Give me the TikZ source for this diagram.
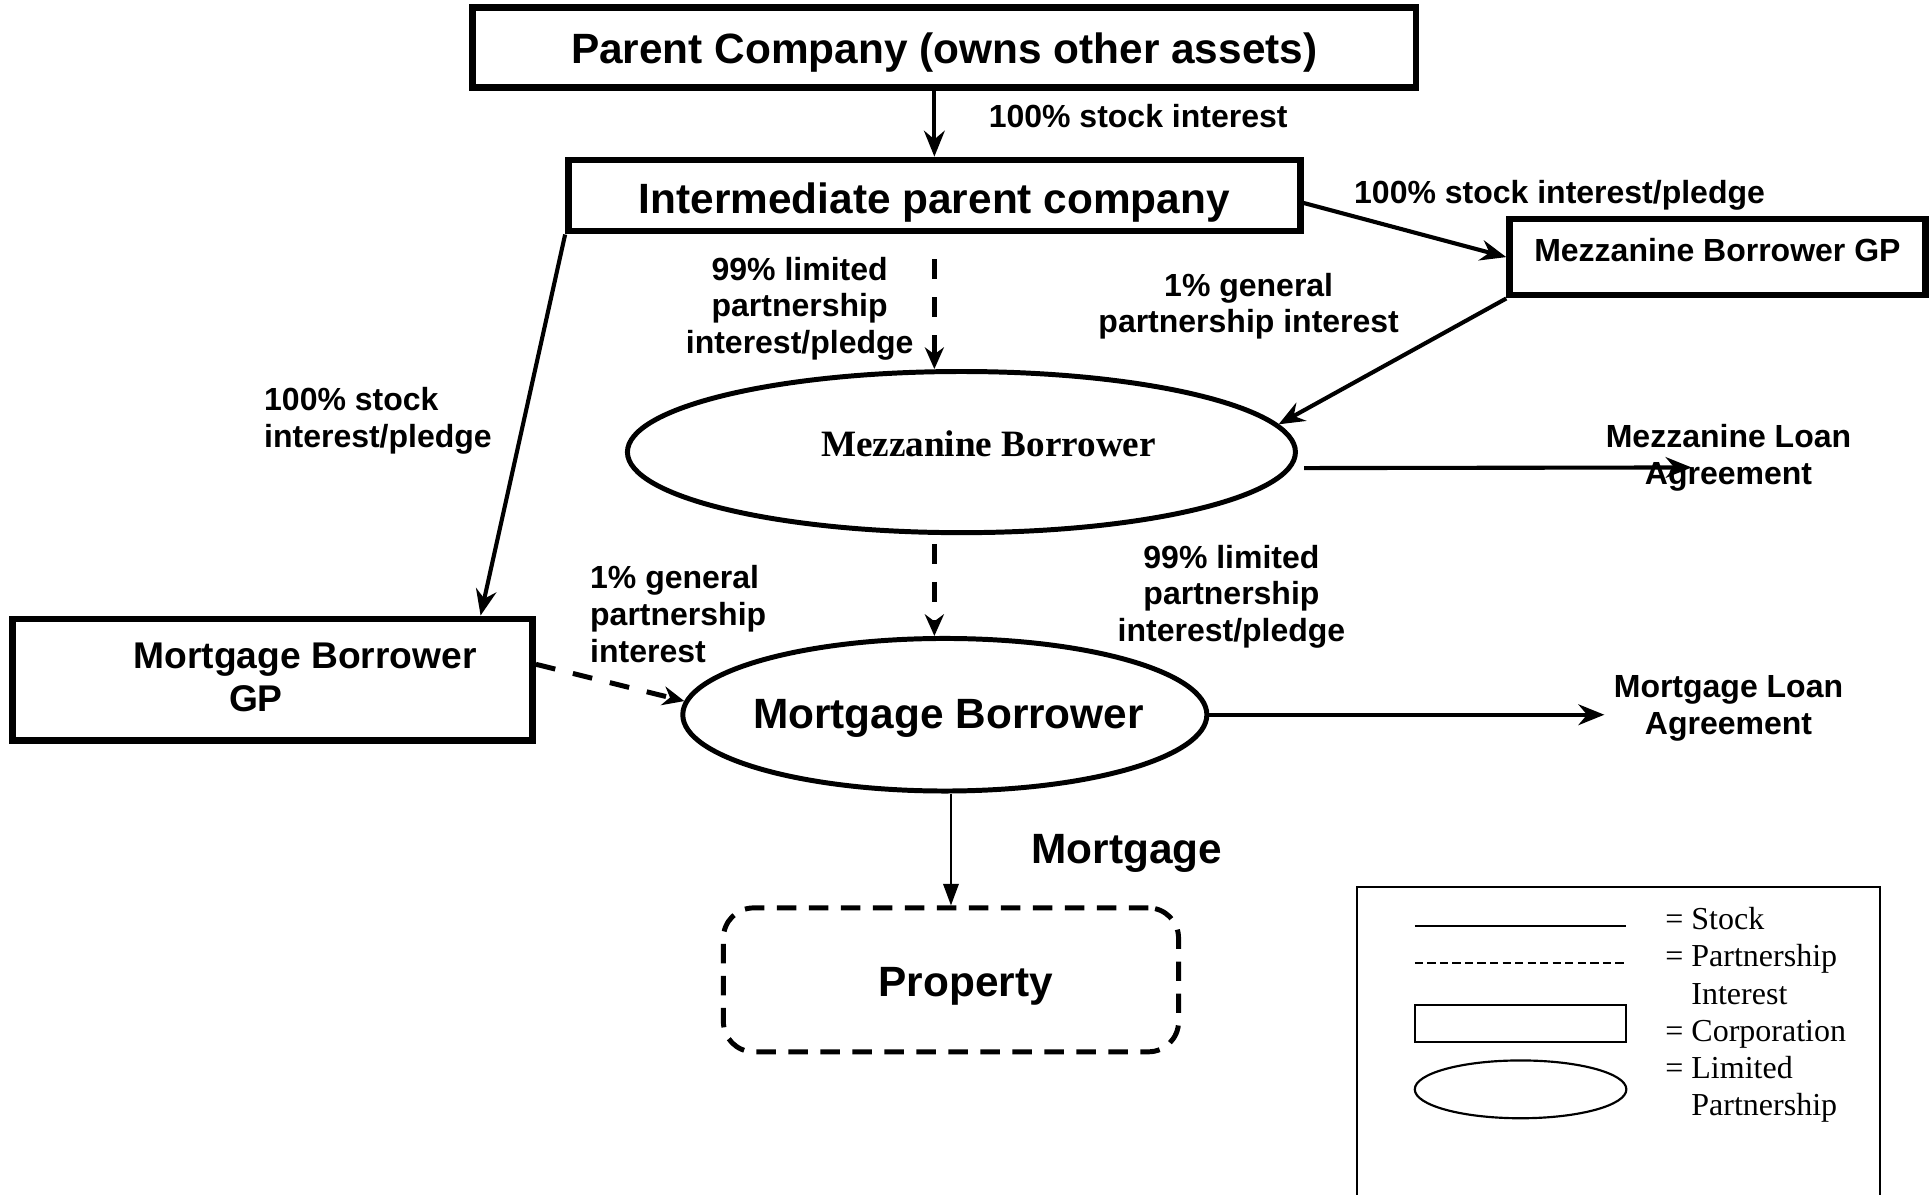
\documentclass[tikz,border=0pt]{standalone}
\usepackage{fontspec}
\setmainfont{Liberation Serif}
\setsansfont{Liberation Sans}
\usetikzlibrary{arrows.meta,shapes.geometric}

\begin{document}
\begin{tikzpicture}[
  every node/.style={inner sep=2pt,font=\sffamily\bfseries\fontsize{7.4}{8.5}\selectfont},
  corp/.style={draw,line width=1.5pt,inner sep=0pt,font=\sffamily\bfseries\fontsize{9.8}{11}\selectfont},
  lp/.style={draw,ellipse,line width=1.15pt,inner sep=0pt},
  stock/.style={line width=0.95pt,-{Stealth[length=6pt,width=4.8pt,inset=2pt]}},
  partner/.style={line width=1.15pt,dash pattern=on 4.6pt off 4.2pt,-{Stealth[length=5pt,width=4.4pt,inset=1.6pt]}}]
  \useasboundingbox (0,0) rectangle (15.68,9.71);
  % Entities
  \node[corp,minimum width=7.67cm,minimum height=0.65cm,text height=9.5pt,text depth=2.1pt] (pc) at (7.675,9.325) {Parent Company (owns other assets)};
  \node[corp,minimum width=5.95cm,minimum height=0.58cm,text height=10.6pt,text depth=2.1pt] (ipc) at (7.595,8.12) {Intermediate parent company};
  \node[corp,minimum width=3.38cm,minimum height=0.62cm,text height=5.4pt,text depth=3.5pt,font=\sffamily\bfseries\fontsize{7.4}{8.5}\selectfont] (mgp) at (13.96,7.62) {Mezzanine Borrower GP};
  \node[corp,minimum width=4.23cm,minimum height=0.99cm,label={[align=center,xshift=0.265cm,yshift=0.02cm,font=\sffamily\bfseries\fontsize{8.6}{10}\selectfont]center:{Mortgage Borrower\\GP\hspace*{0.8cm}}}] (bgp) at (2.215,4.185) {};
  \node[lp,minimum width=5.43cm,minimum height=1.31cm,label={[xshift=0.22cm,yshift=0.07cm,font=\rmfamily\bfseries\fontsize{8.6}{10}\selectfont]center:Mezzanine Borrower}] (mezz) at (7.815,6.035) {};
  \node[lp,minimum width=4.26cm,minimum height=1.24cm,label={[xshift=0.03cm,yshift=-0.03cm,font=\sffamily\bfseries\fontsize{9.8}{11}\selectfont]center:Mortgage Borrower}] (mb) at (7.68,3.90) {};
  \node[draw,line width=1.15pt,dash pattern=on 4.5pt off 2.9pt,rounded corners=7pt,minimum width=3.7cm,minimum height=1.17cm,text height=10pt,text depth=2.1pt,font=\sffamily\bfseries\fontsize{9.8}{11}\selectfont] (prop) at (7.73,1.745) {\hspace*{0.24cm}Property};
  % Labels
  \node[anchor=west] (l1) at (7.96,8.77) {100\% stock interest};
  \node[anchor=west] (l2) at (10.93,8.12) {100\% stock interest/pledge};
  \node[align=center] (l3) at (6.50,7.20) {99\% limited\\partnership\\interest/pledge};
  \node[align=center] (l4) at (10.15,7.22) {1\% general\\partnership interest};
  \node[anchor=west,align=left] (l5) at (2.07,6.29) {100\% stock\\interest/pledge};
  \node[align=center] (mla) at (14.05,5.99) {Mezzanine Loan\\Agreement};
  \node[anchor=west,align=left] (l6) at (4.72,4.72) {1\% general\\partnership\\interest};
  \node[align=center] (l7) at (10.01,4.86) {99\% limited\\partnership\\interest/pledge};
  \node[align=center] (mortla) at (14.05,3.95) {Mortgage Loan\\Agreement};
  \node[font=\sffamily\bfseries\fontsize{9.8}{11}\selectfont] (mtg) at (9.16,2.77) {Mortgage};
  % Ownership flows
  \coordinate (mzt) at (ipc.south |- mezz.north);
  \coordinate (mzb) at (ipc.south |- mezz.south);
  \coordinate (mbt) at (ipc.south |- mb.north);
  \coordinate (mlaend) at (13.75,5.91);
  \draw[stock] (pc.south -| ipc.north) -- (ipc.north);
  \draw[stock] ([yshift=-0.06cm]ipc.east) -- (mgp.west);
  \draw[stock] (ipc.south west) -- ([xshift=-0.45cm]bgp.north east);
  \draw[stock] (mgp.south west) -- (mezz.5);
  \draw[partner] ([yshift=-0.2cm]ipc.south) -- (mzt);
  \draw[partner] ([yshift=-0.07cm]mzb) -- (mbt);
  \draw[partner] ([yshift=0.125cm]bgp.east) -- (mb.177);
  \draw[stock] ([shift={(0.05,-0.13)}]mezz.east) -- (mlaend);
  \draw[stock] (mb.east) -- (mortla.west |- mb.east);
  \draw[line width=0.45pt,-{Triangle[length=5pt,width=3.6pt]}] (mb.south -| prop.north) -- (prop.north);
  % Legend
  \draw[line width=0.5pt] (11.03,0) -- (11.03,2.50) -- (15.28,2.50) -- (15.28,0);
  \draw[line width=0.5pt] (11.50,2.18) -- (13.22,2.18);
  \draw[line width=0.5pt,dash pattern=on 1.9pt off 1pt] (11.50,1.88) -- (13.22,1.88);
  \draw[line width=0.5pt] (11.50,1.24) rectangle (13.22,1.54);
  \draw[line width=0.5pt] (12.36,0.855) ellipse (0.86 and 0.235);
  \node[anchor=west,align=left,inner sep=0pt,font=\rmfamily\fontsize{7.4}{8.6}\selectfont] (key) at (13.53,1.46) {= Stock\\= Partnership\\\phantom{= }Interest\\= Corporation\\= Limited\\\phantom{= }Partnership};
\end{tikzpicture}
\end{document}
